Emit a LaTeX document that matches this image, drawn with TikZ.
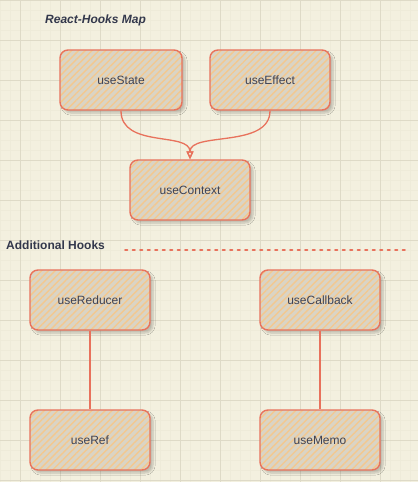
\documentclass[tikz,border=0pt]{standalone}
\usepackage{fontspec}
\setmainfont{Liberation Sans}
\usetikzlibrary{patterns.meta,shadows.blur,arrows.meta}
\definecolor{bgc}{HTML}{F3F0DF}
\definecolor{gridmaj}{HTML}{DEDAC7}
\definecolor{gridmin}{HTML}{EEEBD9}
\definecolor{strk}{HTML}{E8725C}
\definecolor{fillbase}{HTML}{DAD4C5}
\definecolor{hatch}{HTML}{F3C88F}
\definecolor{txt}{HTML}{3E4254}
\definecolor{ttl}{HTML}{33384C}
\tikzset{
  hookbox/.style={draw=strk, line width=1.4pt, rounded corners=8pt,
    minimum width=120pt, minimum height=60pt, inner sep=0pt,
    text=txt, font=\fontsize{12pt}{14pt}\selectfont,
    blur shadow={shadow xshift=3pt, shadow yshift=-3pt, shadow opacity=22, shadow blur steps=6},
    preaction={fill=fillbase},
    preaction={pattern={Lines[angle=45,distance=4.8pt,line width=1.4pt]}, pattern color=hatch}},
  conn/.style={draw=strk, line width=1.3pt},
  heading/.style={text=ttl, font=\fontsize{12pt}{14pt}\selectfont\bfseries, anchor=west, inner sep=0pt}
}
\begin{document}
\begin{tikzpicture}[x=1pt,y=-1pt]
\useasboundingbox (0,0) rectangle (418,482);
\fill[bgc] (0,0) rectangle (418,482);
\foreach \x in {0,10,...,410} \draw[gridmin,line width=0.7pt] (\x,0) -- (\x,482);
\foreach \y in {0,10,...,480} \draw[gridmin,line width=0.7pt] (0,\y) -- (418,\y);
\foreach \x in {20,60,...,400} \draw[gridmaj,line width=0.8pt] (\x,0) -- (\x,482);
\foreach \y in {0,40,...,480} \draw[gridmaj,line width=0.8pt] (0,\y) -- (418,\y);

\node[heading] (title) at (45,20) {\itshape React-Hooks Map};
\node[heading] (addl) at (6,245) {Additional Hooks};
\coordinate (dashA) at (125,250);
\coordinate (dashB) at (406,250);
\draw[strk, line width=1.6pt, line cap=round, dash pattern=on 2.5pt off 5pt] (dashA) -- (dashB);

\node[hookbox, minimum width=122pt] (state) at (121,80) {useState};
\node[hookbox] (effect) at (270,80) {useEffect};
\node[hookbox] (context) at (190,190) {useContext};
\node[hookbox] (reducer) at (90,300) {useReducer};
\node[hookbox] (ref) at (90,440) {useRef};
\node[hookbox] (callback) at (320,300) {useCallback};
\node[hookbox] (memo) at (320,440) {useMemo};

\draw[conn, -{Triangle[open,length=8pt,width=7pt]}] (state.south) .. controls ++(0,38) and ++(0,-28) .. (context.north);
\draw[conn, -{Triangle[open,length=8pt,width=7pt]}] (effect.south) .. controls ++(0,38) and ++(0,-28) .. (context.north);
\draw[conn] (reducer.south) -- (ref.north);
\draw[conn] (callback.south) -- (memo.north);
\end{tikzpicture}
\end{document}
